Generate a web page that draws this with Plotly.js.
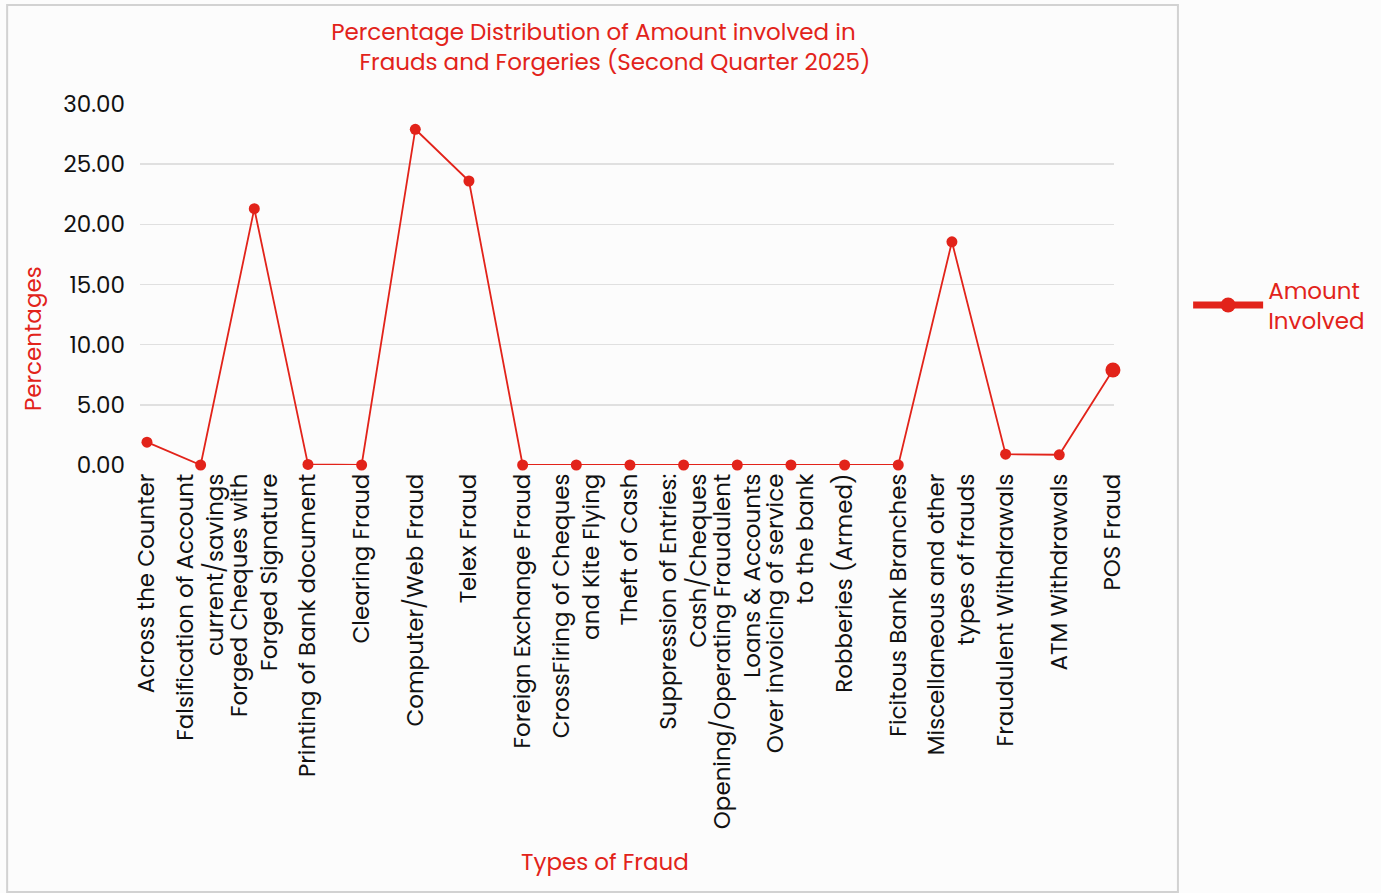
<!DOCTYPE html>
<html>
<head>
<meta charset="utf-8">
<script src="https://cdn.plot.ly/plotly-3.0.1.min.js"></script>
<style>
html,body{margin:0;padding:0;background:#ffffff;}
#chart{width:1381px;height:893px;}
</style>
</head>
<body>
<div id="chart"></div>
<script>
const categories = [
  "Across the Counter",
  "Falsification of Account<br>current/savings",
  "Forged Cheques with<br>Forged Signature",
  "Printing of Bank document",
  "Clearing Fraud",
  "Computer/Web Fraud",
  "Telex Fraud",
  "Foreign Exchange Fraud",
  "CrossFiring of Cheques<br>and Kite Flying",
  "Theft of Cash",
  "Suppression of Entries:<br>Cash/Cheques",
  "Opening/Operating Fraudulent<br>Loans & Accounts",
  "Over invoicing of service<br>to the bank",
  "Robberies (Armed)",
  "Ficitous Bank Branches",
  "Miscellaneous and other<br>types of frauds",
  "Fraudulent Withdrawals",
  "ATM Withdrawals",
  "POS Fraud"
];
const amountInvolved = [1.90, 0.00, 21.30, 0.05, 0.00, 27.90, 23.60, 0.00, 0.00, 0.00, 0.00, 0.00, 0.00, 0.00, 0.00, 18.55, 0.90, 0.85, 7.90];
const seriesName = "Amount<br>Involved";
const yTicks = [0, 5, 10, 15, 20, 25, 30];

const RED = "#e2231a";
const FONT = "Poppins, 'Open Sans', 'Noto Sans', sans-serif";
const NB = "\u00A0";

const markerSizes = amountInvolved.map((v, i) => i === amountInvolved.length - 1 ? 15 : 11);

const data = [{
  type: "scatter",
  mode: "lines+markers",
  x: categories,
  y: amountInvolved,
  name: seriesName,
  line: {color: RED, width: 1.8},
  marker: {color: RED, size: markerSizes, opacity: 1, line: {width: 0}},
  cliponaxis: false,
  showlegend: false
}, {
  type: "scatter",
  mode: "lines+markers",
  x: [categories[0]],
  y: [null],
  name: seriesName,
  line: {color: RED, width: 7},
  marker: {color: RED, size: 15, symbol: "circle", opacity: 1, line: {width: 0}},
  showlegend: true
}];

const layout = {
  width: 1381,
  height: 893,
  paper_bgcolor: "#fcfcfc",
  plot_bgcolor: "rgba(0,0,0,0)",
  margin: {l: 140, r: 266, t: 104, b: 428, pad: 0},
  font: {family: FONT, color: "#111111", size: 23},
  title: {
    text: "Percentage Distribution of Amount involved in<br>" + NB.repeat(7) + "Frauds and Forgeries (Second Quarter 2025)",
    font: {family: FONT, color: RED, size: 23},
    x: 0.4297, xref: "container", xanchor: "center",
    y: 0.955, yref: "container", yanchor: "middle"
  },
  xaxis: {
    type: "category",
    range: [-0.13, 18.02],
    tickangle: -90,
    showgrid: false,
    showline: false,
    zeroline: false,
    ticks: "",
    ticklabelstandoff: 3,
    tickfont: {family: FONT, size: 23, color: "#111111"},
    automargin: false
  },
  yaxis: {
    range: [0, 30],
    tickvals: yTicks,
    ticktext: yTicks.map(v => v.toFixed(2)),
    showgrid: true,
    gridcolor: "#e0e0e0",
    gridwidth: 1.5,
    zeroline: false,
    showline: false,
    ticks: "",
    ticklabelstandoff: 14,
    tickfont: {family: FONT, size: 23, color: "#111111"},
    automargin: false
  },
  legend: {
    x: 1.075, xref: "paper", xanchor: "left",
    y: 0.443, yanchor: "middle",
    itemwidth: 70,
    font: {family: FONT, size: 23, color: RED},
    bgcolor: "rgba(0,0,0,0)"
  },
  annotations: [{
    text: "Types of Fraud",
    xref: "paper", yref: "paper",
    x: (605 - 140) / 975, y: (465 - 862) / 361,
    xanchor: "center", yanchor: "middle",
    showarrow: false,
    font: {family: FONT, size: 23, color: RED}
  }, {
    text: "Percentages",
    xref: "paper", yref: "paper",
    x: (33 - 140) / 975, y: (465 - 339) / 361,
    xanchor: "center", yanchor: "middle",
    textangle: -90,
    showarrow: false,
    font: {family: FONT, size: 23, color: RED}
  }],
  shapes: [{
    type: "rect", xref: "paper", yref: "paper",
    x0: (7 - 140) / 975, x1: (1179 - 140) / 975,
    y0: (465 - 892) / 361, y1: (465 - 5) / 361,
    line: {color: "#d2d2d2", width: 2},
    fillcolor: "rgba(0,0,0,0)",
    layer: "below"
  }]
};

Plotly.newPlot("chart", data, layout, {displayModeBar: false, staticPlot: true});
</script>
</body>
</html>
